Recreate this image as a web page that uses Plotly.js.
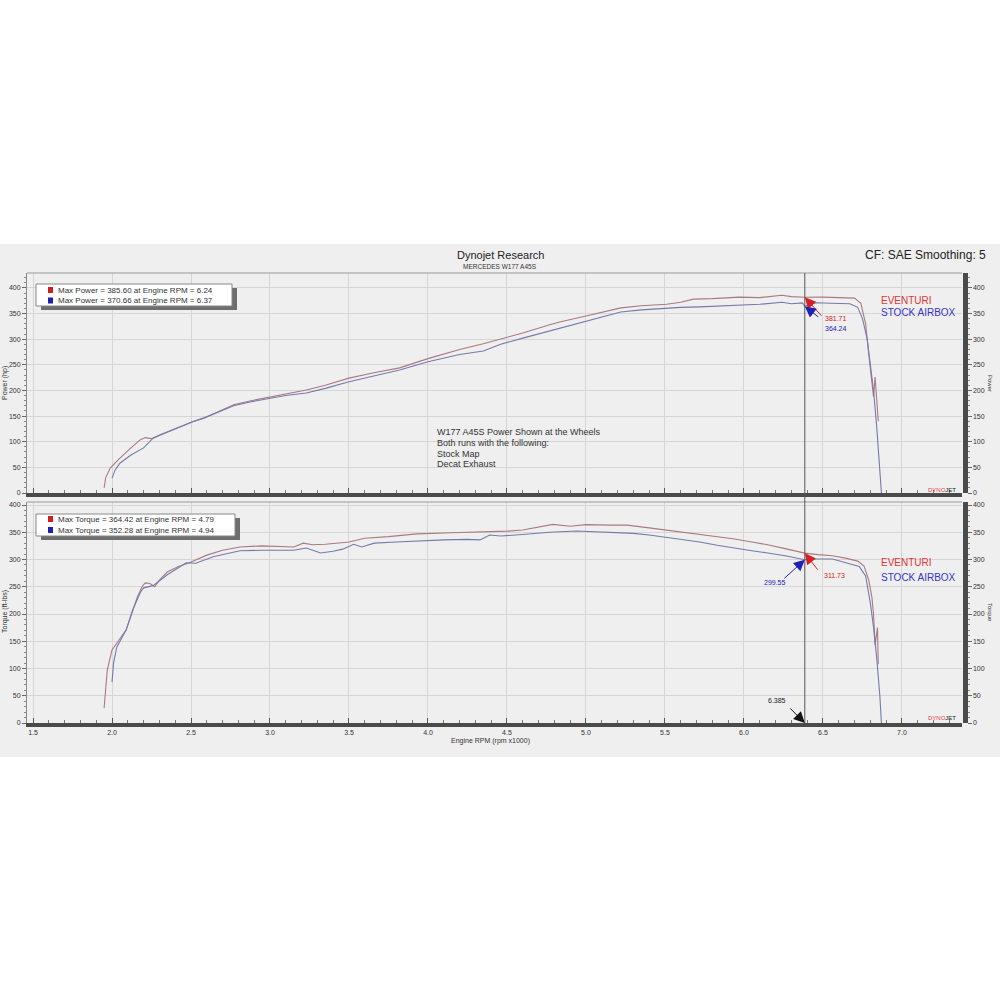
<!DOCTYPE html>
<html>
<head>
<meta charset="utf-8">
<script src="https://cdn.plot.ly/plotly-3.0.1.min.js"></script>
<style>html,body{margin:0;padding:0;background:#fff;}#chart{width:1000px;height:1000px;}</style>
</head>
<body>
<div id="chart"></div>
<script>
// ---- Data (RPM x1000) ----
const rpmPowerEv = [1.95,1.96,1.99,2.05,2.12,2.18,2.21,2.25,2.30,2.40,2.51,2.58,2.68,2.77,2.88,2.98,3.10,3.23,3.35,3.50,3.65,3.82,4.00,4.20,4.35,4.46,4.60,4.77,4.84,5.00,5.22,5.35,5.51,5.60,5.68,5.80,5.97,6.10,6.24,6.30,6.385,6.50,6.60,6.70,6.74,6.77,6.79,6.81,6.82,6.83,6.845,6.85];
const powerEv    = [10,30,49,68,88,104,108,106,113,126,139,146,160,172,180,186,193,201,210,224,234,244,262,280,291,300,312,328,334,345,361,365,368,372,378,379,382,381,385.6,383,381.7,382,381,380,370,330,270,215,188,226,170,140];

const rpmPowerSt = [2.00,2.02,2.05,2.12,2.20,2.26,2.30,2.40,2.51,2.58,2.68,2.77,2.88,2.98,3.10,3.23,3.35,3.50,3.65,3.82,4.00,4.20,4.35,4.46,4.60,4.77,4.88,5.00,5.22,5.35,5.51,5.60,5.72,5.85,5.97,6.10,6.24,6.30,6.37,6.385,6.42,6.46,6.55,6.67,6.72,6.75,6.78,6.80,6.82,6.84,6.86,6.87];
const powerSt    = [29,45,58,74,88,107,112,125,139,146,159,170,178,183,190,195,204,217,228,240,256,270,277,290,302,316,324,335,353,357,361,362,363,365,367,368,372,369,370.7,364.2,368,371,370,369,362,340,300,250,200,130,50,0];

const rpmTorqueEv = [1.95,1.96,1.97,2.00,2.09,2.13,2.16,2.19,2.21,2.24,2.27,2.30,2.35,2.42,2.49,2.60,2.70,2.81,2.95,3.15,3.21,3.27,3.35,3.50,3.60,3.75,3.93,4.15,4.35,4.50,4.60,4.70,4.79,4.90,5.00,5.15,5.26,5.40,5.51,5.62,5.72,5.83,5.93,6.05,6.15,6.26,6.385,6.47,6.56,6.65,6.72,6.76,6.79,6.81,6.82,6.83,6.845,6.85];
const torqueEv    = [27,60,97,134,171,205,231,250,257,256,250,262,277,287,294,308,317,323,325,323,330,327,328,332,339,342,347,349,350,352,354,360,364.4,361,364,363,363,358,354,350,347,342,338,332,327,320,311.7,309,307,302,297,288,262,230,200,143,175,108];

const rpmTorqueSt = [2.00,2.01,2.03,2.09,2.13,2.18,2.20,2.24,2.26,2.35,2.47,2.53,2.64,2.81,2.95,3.15,3.23,3.32,3.40,3.46,3.53,3.58,3.66,3.80,3.93,4.10,4.25,4.33,4.39,4.46,4.60,4.77,4.94,5.10,5.30,5.40,5.51,5.62,5.72,5.83,5.93,6.05,6.15,6.26,6.385,6.45,6.56,6.65,6.73,6.77,6.80,6.82,6.84,6.86,6.87];
const torqueSt    = [75,110,139,171,207,240,248,251,252,272,294,293,305,316,317,317,321,312,315,319,328,323,330,332,334,336,337,336,345,343,346,350,352.3,350,348,345,341,337,332,326,321,316,312,307,299.6,301,301,294,287,270,220,176,120,50,0];

const cursorRpm = 6.385;
const powerLegend  = ["Max Power = 385.60 at Engine RPM = 6.24", "Max Power = 370.66 at Engine RPM = 6.37"];
const torqueLegend = ["Max Torque = 364.42 at Engine RPM = 4.79", "Max Torque = 352.28 at Engine RPM = 4.94"];
const cursorPower  = [381.71, 364.24];
const cursorTorque = [311.73, 299.55];
const noteLines = ["W177 A45S Power Shown at the Wheels", "Both runs with the following:", "Stock Map", "Decat Exhaust"];

// ---- helpers (margin 0 => paper == pixels/1000) ----
const PX = x => x/1000, PY = y => 1 - y/1000;
const RED = '#a87a82', BLUE = '#767aa8';
const FONT = 'Liberation Sans, Arial, sans-serif';

const traces = [
  {x: rpmPowerEv, y: powerEv, xaxis:'x2', yaxis:'y2', mode:'lines', line:{color:RED, width:1.1}, name:'EVENTURI'},
  {x: rpmPowerSt, y: powerSt, xaxis:'x2', yaxis:'y2', mode:'lines', line:{color:BLUE, width:1.1}, name:'STOCK AIRBOX'},
  {x: rpmTorqueEv, y: torqueEv, xaxis:'x', yaxis:'y', mode:'lines', line:{color:RED, width:1.1}, name:'EVENTURI'},
  {x: rpmTorqueSt, y: torqueSt, xaxis:'x', yaxis:'y', mode:'lines', line:{color:BLUE, width:1.1}, name:'STOCK AIRBOX'},
  // carriers so the right-hand axes are drawn
  {x: rpmTorqueEv, y: torqueEv, xaxis:'x', yaxis:'y3', mode:'lines', line:{width:0, color:'rgba(0,0,0,0)'}, hoverinfo:'skip'},
  {x: rpmPowerEv, y: powerEv, xaxis:'x2', yaxis:'y4', mode:'lines', line:{width:0, color:'rgba(0,0,0,0)'}, hoverinfo:'skip'}
];

const xBase = {
  domain:[0.027, 0.962], range:[1.462, 7.38], tick0:1.5, dtick:0.5, tickformat:'.1f',
  ticks:'inside', ticklen:5, tickcolor:'#555',
  minor:{ticks:'inside', dtick:0.1, ticklen:3, tickcolor:'#777', showgrid:false},
  showgrid:true, gridcolor:'#d6d6d6', gridwidth:1, zeroline:false,
  showline:true, linewidth:4, linecolor:'#4a4a4a',
  tickfont:{size:7, color:'#333', family:FONT}
};
const yLeft = (dom, rng) => ({
  domain:dom, range:rng, tick0:0, dtick:50, ticks:'outside', ticklen:4, tickcolor:'#666',
  minor:{ticks:'outside', dtick:10, ticklen:2, tickcolor:'#888', showgrid:false},
  showgrid:true, gridcolor:'#d6d6d6', zeroline:false, showline:true, linewidth:1, linecolor:'#888',
  tickfont:{size:7, color:'#333', family:FONT}
});
const yRight = (ov, rng) => ({
  overlaying:ov, side:'right', anchor:'free', position:0.9645, range:rng, tick0:0, dtick:50,
  ticks:'outside', ticklen:4, tickcolor:'#666',
  minor:{ticks:'outside', dtick:10, ticklen:2, tickcolor:'#888'},
  showgrid:false, zeroline:false, showline:true, linewidth:5, linecolor:'#4a4a4a',
  tickfont:{size:7, color:'#333', family:FONT}
});

const layout = {
  width:1000, height:1000, margin:{l:0,r:0,t:0,b:0},
  paper_bgcolor:'#ffffff', plot_bgcolor:'rgba(0,0,0,0)', showlegend:false,
  font:{family:FONT},
  xaxis: Object.assign({}, xBase, {anchor:'y'}),
  xaxis2: Object.assign({}, xBase, {anchor:'y2', matches:'x', showticklabels:false}),
  yaxis: Object.assign(yLeft([0.277, 0.498], [0, 405.5]), {anchor:'x'}),
  yaxis2: Object.assign(yLeft([0.507, 0.727], [0, 429]), {anchor:'x2'}),
  yaxis3: yRight('y', [0, 405.5]),
  yaxis4: yRight('y2', [0, 429]),
  shapes: [], annotations: []
};

// card background
layout.shapes.push({type:'rect', xref:'paper', yref:'paper', x0:0, x1:1, y0:PY(757), y1:PY(244), fillcolor:'#efefef', line:{width:0}, layer:'below'});
// top borders of plots
layout.shapes.push({type:'line', xref:'paper', yref:'paper', x0:PX(27), x1:PX(962), y0:PY(273), y1:PY(273), line:{color:'#999', width:1}});
layout.shapes.push({type:'line', xref:'paper', yref:'paper', x0:PX(27), x1:PX(962), y0:PY(502), y1:PY(502), line:{color:'#999', width:1}});
// cursor line
layout.shapes.push({type:'line', xref:'x', yref:'paper', x0:cursorRpm, x1:cursorRpm, y0:PY(723), y1:PY(273), line:{color:'#555', width:1}});

// legend boxes
function legendBox(x0, y0, x1, y1, lines, lineYs) {
  layout.shapes.push({type:'rect', xref:'paper', yref:'paper', x0:PX(x0+5), x1:PX(x1+5), y0:PY(y1+4), y1:PY(y0+4), fillcolor:'#6e6e6e', line:{width:0}});
  layout.shapes.push({type:'rect', xref:'paper', yref:'paper', x0:PX(x0), x1:PX(x1), y0:PY(y1), y1:PY(y0), fillcolor:'#ffffff', line:{color:'#888', width:1}});
  const cols = ['#cc2020', '#2020b0'];
  lines.forEach((t, i) => {
    layout.shapes.push({type:'rect', xref:'paper', yref:'paper', x0:PX(x0+12), x1:PX(x0+17), y0:PY(lineYs[i]+3), y1:PY(lineYs[i]-3), fillcolor:cols[i], line:{width:0}});
    layout.annotations.push({xref:'paper', yref:'paper', x:PX(x0+20), y:PY(lineYs[i]), text:t, showarrow:false, xanchor:'left', yanchor:'middle', font:{size:8, color:'#333', family:FONT}});
  });
}
legendBox(36, 284, 232, 306, powerLegend, [290, 300.5]);
legendBox(36, 514, 235, 536, torqueLegend, [519, 530]);

const A = layout.annotations;
const txt = (x, y, t, opts) => A.push(Object.assign({xref:'paper', yref:'paper', x:PX(x), y:PY(y), text:t, showarrow:false, xanchor:'left', yanchor:'middle', font:{size:8, color:'#333', family:FONT}}, opts||{}));

// titles
txt(500, 255, 'Dynojet Research', {xanchor:'center', font:{size:11, color:'#222', family:FONT}});
txt(500, 266, 'MERCEDES W177 A45S', {xanchor:'center', font:{size:6.5, color:'#333', family:FONT}});
txt(988, 255, 'CF: SAE Smoothing: 5', {xanchor:'right', font:{size:12, color:'#222', family:FONT}});
// axis titles
txt(490, 741, 'Engine RPM (rpm x1000)', {xanchor:'center', font:{size:7, color:'#333', family:FONT}});
txt(5, 383, 'Power (hp)', {xanchor:'center', textangle:-90, font:{size:7, color:'#333', family:FONT}});
txt(5, 612, 'Torque (ft-lbs)', {xanchor:'center', textangle:-90, font:{size:7, color:'#333', family:FONT}});
txt(990, 383, 'Power', {xanchor:'center', textangle:90, font:{size:6, color:'#333', family:FONT}});
txt(990, 612, 'Torque', {xanchor:'center', textangle:90, font:{size:6, color:'#333', family:FONT}});
// note
noteLines.forEach((t, i) => txt(435, 432 + i*10.8, t, {font:{size:9, color:'#333', family:FONT}}));
// series labels
txt(879, 300, 'EVENTURI', {font:{size:10, color:'#e03535', family:FONT}});
txt(879, 313, 'STOCK AIRBOX', {font:{size:10, color:'#3535c8', family:FONT}});
txt(879, 562, 'EVENTURI', {font:{size:10, color:'#e03535', family:FONT}});
txt(879, 577, 'STOCK AIRBOX', {font:{size:10, color:'#3535c8', family:FONT}});
// dynojet logos
txt(958, 490, '<span style="color:#e03c4a">DYNO</span>JET', {xanchor:'right', font:{size:6, color:'#222', family:FONT}});
txt(958, 718, '<span style="color:#e03c4a">DYNO</span>JET', {xanchor:'right', font:{size:6, color:'#222', family:FONT}});

// cursor arrows
const arrow = (xa, ya, x, y, ax, ay, col) => A.push({xref:xa, yref:ya, x:x, y:y, ax:ax, ay:ay, text:'', showarrow:true, arrowhead:2, arrowsize:2.2, arrowwidth:1, arrowcolor:col});
arrow('x2', 'y2', cursorRpm, cursorPower[0], 18, 20, '#d42020');
arrow('x2', 'y2', cursorRpm, cursorPower[1], 15, 12, '#2020b8');
txt(823, 318, cursorPower[0].toFixed(2), {font:{size:7, color:'#d42020', family:FONT}});
txt(823, 328, cursorPower[1].toFixed(2), {font:{size:7, color:'#2020b8', family:FONT}});
arrow('x', 'y', cursorRpm, cursorTorque[0], 14, 18, '#d42020');
arrow('x', 'y', cursorRpm, cursorTorque[1], -22, 20, '#2020b8');
txt(822, 575, cursorTorque[0].toFixed(2), {font:{size:7, color:'#d42020', family:FONT}});
txt(775, 582, cursorTorque[1].toFixed(2), {xanchor:'center', font:{size:7, color:'#2020b8', family:FONT}});
arrow('x', 'y', cursorRpm, 0, -16, -16, '#111');
txt(777, 700, cursorRpm.toFixed(3), {xanchor:'center', font:{size:7, color:'#222', family:FONT}});

Plotly.newPlot('chart', traces, layout, {displayModeBar:false, staticPlot:true});
</script>
</body>
</html>
